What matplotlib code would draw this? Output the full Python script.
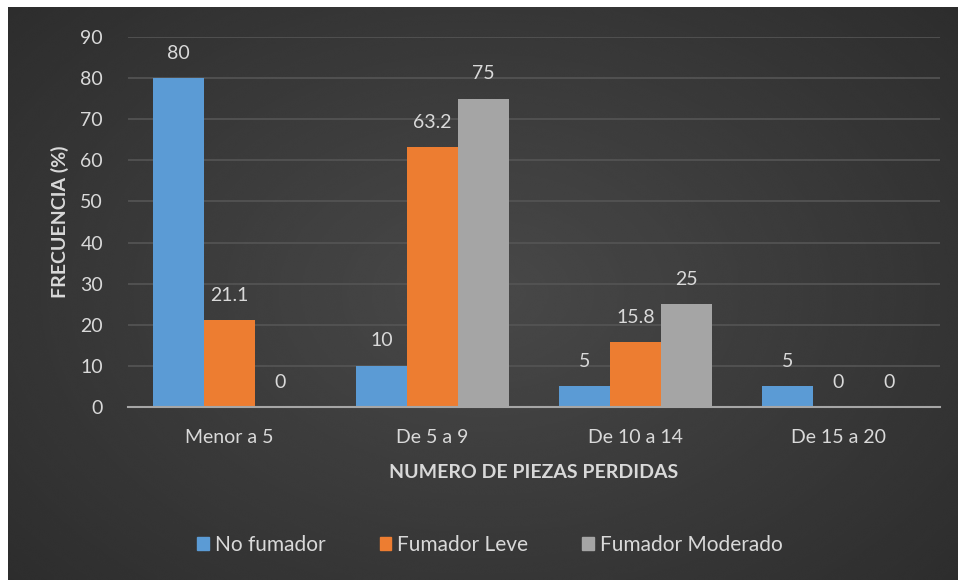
import numpy as np
import matplotlib
matplotlib.use('Agg')
import matplotlib.pyplot as plt
from matplotlib.patches import Patch

# data
categories = ['Menor a 5', 'De 5 a 9', 'De 10 a 14', 'De 15 a 20']
no_fumador = [80, 10, 5, 5]
fumador_leve = [21.1, 63.2, 15.8, 0]
fumador_moderado = [0, 75, 25, 0]
series_names = ['No fumador', 'Fumador Leve', 'Fumador Moderado']
colors = ['#5b9bd5', '#ed7d31', '#a5a5a5']

plt.rcParams['font.family'] = ['Lato', 'DejaVu Sans']
txt_col = '#d9d9d9'
fs = 14

fig = plt.figure(figsize=(9.58, 5.8), dpi=100, facecolor='white')

# dark radial-gradient background of the chart area
bg = fig.add_axes([8 / 958, 0, 950 / 958, 573 / 580])
yy, xx = np.mgrid[0:1:300j, 0:1:500j]
r = np.sqrt(((xx - 0.5) / 0.75) ** 2 + ((yy - 0.5) / 0.85) ** 2)
shade = np.clip(0.285 - 0.12 * r, 0.16, 0.3)
bg.imshow(shade, cmap='gray', vmin=0, vmax=1, aspect='auto',
          extent=[0, 1, 0, 1], interpolation='bicubic')
bg.set_axis_off()

ax = fig.add_axes([128 / 958, (580 - 407) / 580, (940 - 128) / 958, (407 - 37) / 580])
ax.set_facecolor('none')

x = np.arange(len(categories))
w = 0.25
for i, (vals, name) in enumerate(zip([no_fumador, fumador_leve, fumador_moderado], series_names)):
    pos = x + (i - 1) * w
    ax.bar(pos, vals, width=w, color=colors[i], label=name, zorder=3)
    for px, v in zip(pos, vals):
        lab = ('%g' % v)
        ax.annotate(lab, (px, v), xytext=(0, 18), textcoords='offset points',
                    ha='center', va='center', color=txt_col, fontsize=fs)

ax.set_xlim(-0.5, 3.5)
ax.set_ylim(0, 90)
ax.set_yticks(range(0, 91, 10))
ax.set_xticks(x)
ax.set_xticklabels(categories)
ax.yaxis.grid(True, color='#555555', lw=1.2, zorder=0)
ax.set_axisbelow(True)
for s in ['top', 'right', 'left']:
    ax.spines[s].set_visible(False)
ax.spines['bottom'].set_color('#a6a6a6')
ax.spines['bottom'].set_linewidth(1.5)
ax.spines['bottom'].set_zorder(4)
ax.tick_params(axis='both', length=0, colors=txt_col, labelsize=fs)
ax.tick_params(axis='x', pad=16)
ax.tick_params(axis='y', pad=18)

ax.set_ylabel('FRECUENCIA (%)', color=txt_col, fontsize=fs, fontweight='bold', labelpad=8)
ax.set_xlabel('NUMERO DE PIEZAS PERDIDAS', color=txt_col, fontsize=fs, fontweight='bold', labelpad=13)

handles = [Patch(color=c) for c in colors]
fig.legend(handles, series_names, loc='center', bbox_to_anchor=(490 / 958, 1 - 545 / 580),
           ncol=3, frameon=False, fontsize=fs + 1, labelcolor=txt_col,
           handlelength=0.55, handleheight=0.55, handletextpad=0.3, columnspacing=2.6)

fig.savefig('out.png', dpi=100, facecolor='white')
